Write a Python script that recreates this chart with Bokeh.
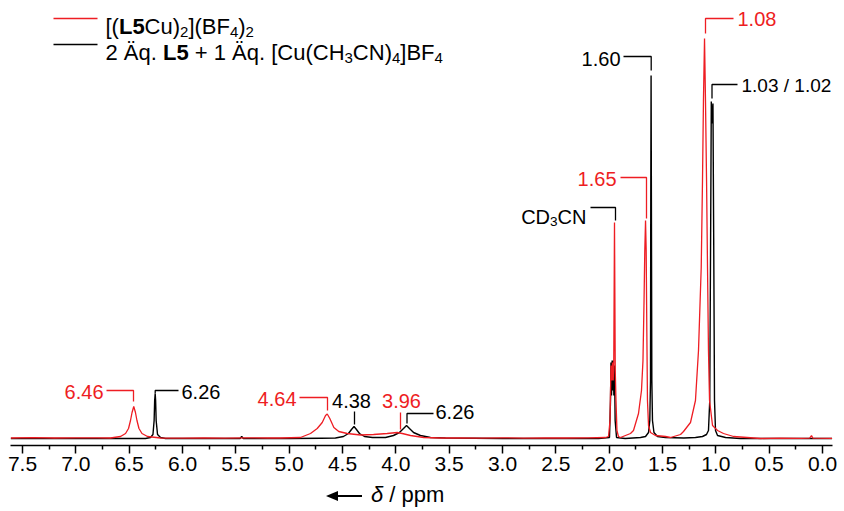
from bokeh.plotting import figure
from bokeh.models import Label, FixedTicker, NumeralTickFormatter, Range1d, Div
from bokeh.layouts import column
from bokeh.embed import file_html
from bokeh.resources import INLINE

# ---------------- data ----------------
red_ppm = [7.61, 7.40, 7.20, 7.00, 6.80, 6.675, 6.581, 6.534, 6.506, 6.4875, 6.473, 6.457, 6.441, 6.427,
           6.408, 6.380, 6.328, 6.206, 6.00, 5.80, 5.60, 5.40, 5.20, 5.081, 4.894, 4.80, 4.737, 4.690,
           4.659, 4.643, 4.619, 4.581, 4.535, 4.456, 4.331, 4.209, 4.081, 3.987, 3.940, 3.8625, 3.738,
           3.581, 3.40, 3.20, 3.00, 2.80, 2.60, 2.40, 2.20, 2.034, 2.006, 1.992, 1.983, 1.975, 1.969,
           1.962, 1.957, 1.950, 1.943, 1.936, 1.927, 1.913, 1.894, 1.800, 1.772, 1.725, 1.697, 1.683,
           1.673, 1.666, 1.659, 1.653, 1.647, 1.641, 1.631, 1.6125, 1.566, 1.472, 1.425, 1.331, 1.303,
           1.2375, 1.191, 1.1625, 1.137, 1.125, 1.116, 1.106, 1.097, 1.087, 1.078, 1.069, 1.059, 1.031,
           0.984, 0.928, 0.834, 0.581, 0.40, 0.20, 0.12, 0.103, 0.09, -0.09]
red_int = [0.5, 0.8, 0.5, 0.7, 0.6, 0.5, 2, 5, 10, 18, 26, 32, 26, 18,
           10, 5, 2, 0.5, 0.3, 0.5, 0.4, 0.6, 0.5, 0.5, 1, 5, 10, 16,
           23, 24.5, 20, 11, 7, 5, 3.5, 4, 5, 6, 5, 3, 1,
           0.5, 0.6, 0.4, 0.6, 0.4, 0.6, 0.5, 0.6, 1, 2, 18, 73, 58, 76,
           58, 76, 216, 68, 38, 8, 2, 1, 5, 8, 25, 48, 78,
           138, 188, 218, 188, 108, 38, 13, 6, 3, 2, 1, 4, 7,
           16, 38, 88, 171, 258, 338, 400, 338, 258, 171, 88, 38, 13,
           8, 5, 2, 0, 0.3, 0.2, 0.3, 3, 0.3, 0.2]

black_ppm = [7.61, 6.80, 6.40, 6.347, 6.30, 6.277, 6.266, 6.261, 6.256, 6.252, 6.247, 6.234, 6.206,
             6.159, 5.80, 5.46, 5.445, 5.43, 5.00, 4.70, 4.566, 4.491, 4.444, 4.416, 4.392, 4.369,
             4.341, 4.294, 4.219, 4.15, 4.097, 4.022, 3.966, 3.928, 3.90, 3.872, 3.834, 3.769, 3.675,
             3.534, 3.00, 2.50, 2.10, 1.997, 1.9875, 1.983, 1.978, 1.972, 1.967, 1.961, 1.956, 1.950,
             1.944, 1.931, 1.85, 1.706, 1.659, 1.631, 1.619, 1.6125, 1.610, 1.607, 1.604, 1.600, 1.594,
             1.580, 1.547, 1.472, 1.30, 1.191, 1.125, 1.0875, 1.069, 1.057, 1.048, 1.0425, 1.036, 1.031,
             1.027, 1.020, 1.0125, 1.003, 0.984, 0.909, 0.769, 0.40, -0.09]
black_int = [0, 0, 0, 0, 1, 4, 18, 38, 45, 38, 18, 4, 1,
             0, 0, 0, 2, 0, 0, 0.3, 0.5, 2, 5, 9, 12, 9,
             5, 2, 1, 1, 1, 3, 6, 10, 13, 10, 6, 3, 1,
             0.5, 0, 0, 0, 1, 38, 76, 43, 78, 48, 78, 43, 73,
             18, 1, 0, 1, 2, 6, 18, 58, 238, 363, 238, 58, 18,
             6, 2, 1, 0.5, 1, 2, 4, 8, 38, 220, 337, 315, 325,
             335, 200, 38, 8, 3, 1, 0, 0, 0]

major_ticks = [7.5, 7.0, 6.5, 6.0, 5.5, 5.0, 4.5, 4.0, 3.5, 3.0, 2.5, 2.0, 1.5, 1.0, 0.5, 0.0]
minor_ticks = [7.25, 6.75, 6.25, 5.75, 5.25, 4.75, 4.25, 3.75, 3.25, 2.75, 2.25, 1.75, 1.25, 0.75, 0.25]

RED = "#EE1D23"
BLACK = "#000000"
FONT = "Liberation Sans"

# ---------------- figure ----------------
X0, X1 = 7.6125, -0.09375
p = figure(width=844, height=480, output_backend="svg", toolbar_location=None,
           x_range=Range1d(X0, X1), y_range=Range1d(-7, 430),
           min_border_left=10, min_border_right=12, min_border_top=8, min_border_bottom=35)
p.yaxis.visible = False
p.grid.visible = False
p.outline_line_color = None
p.background_fill_color = "white"
p.border_fill_color = "white"

ax = p.xaxis[0]
ax.ticker = FixedTicker(ticks=major_ticks, minor_ticks=minor_ticks)
ax.formatter = NumeralTickFormatter(format="0.0")
ax.axis_line_width = 1.5
ax.axis_line_color = BLACK
ax.major_tick_in = 0
ax.major_tick_out = 8
ax.minor_tick_in = 0
ax.minor_tick_out = 4
ax.major_tick_line_width = 1.5
ax.minor_tick_line_width = 1.5
ax.major_tick_line_color = BLACK
ax.minor_tick_line_color = BLACK
ax.major_label_text_font = FONT
ax.major_label_text_font_size = "21px"
ax.major_label_text_color = BLACK
ax.major_label_standoff = 3

PPX = 800 / 7.5  # px per ppm


def X(px):
    return X0 - (px - 10) / PPX


def Y(py):
    return 438 - py


# spectra
p.line(black_ppm, black_int, line_color=BLACK, line_width=1.4)
p.line(red_ppm, red_int, line_color=RED, line_width=1.3)

# ---------------- rich text helper ----------------
W = {' ': .278, '[': .278, ']': .278, '(': .333, ')': .333, '.': .278, '/': .278, '+': .584,
     'A': .667, 'Ä': .667, 'B': .667, 'C': .722, 'D': .722, 'F': .611, 'H': .722, 'N': .722,
     'L': .556, 'q': .556, 'u': .556, 'p': .556, 'm': .833}
WB = {'L': .611}


def tw(s, bold=False):
    t = 0
    for c in s:
        if c.isdigit():
            t += .556
        elif bold and c in WB:
            t += WB[c]
        else:
            t += W.get(c, .556)
    return t


def rich(px_left, py_base, segs, size, color, align="left"):
    total = 0
    for s, st in segs:
        if st == "sub":
            total += tw(s) * size * 0.68
        else:
            total += tw(s, st == "bold") * size
    x = px_left
    if align == "right":
        x = px_left - total
    for s, st in segs:
        if st == "sub":
            fs = size * 0.68
            yb = py_base + size * 0.25
            style = "normal"
        else:
            fs = size
            yb = py_base
            style = "bold" if st == "bold" else ("italic" if st == "italic" else "normal")
        bold = st == "bold"
        lead = len(s) - len(s.lstrip(" "))
        x += lead * W[' '] * fs
        body = s.strip(" ")
        p.add_layout(Label(x=X(x), y=Y(yb), text=body, text_font=FONT, text_font_size=f"{fs:.1f}px",
                           text_color=color, text_font_style=style, text_align="left",
                           text_baseline="alphabetic"))
        x += tw(s.lstrip(" "), bold) * fs


def label(px, py, text, color, align, size=20):
    p.add_layout(Label(x=X(px), y=Y(py), text=text, text_font=FONT, text_font_size=f"{size}px",
                       text_color=color, text_align=align, text_baseline="middle"))


def leader(pts, color):
    p.line([X(a) for a, b in pts], [Y(b) for a, b in pts], line_color=color, line_width=1.3)


# ---------------- legend ----------------
leader([(53, 18), (97, 18)], RED)
leader([(53, 44), (97, 44)], BLACK)
rich(105, 26, [("[(", "n"), ("L5", "bold"), ("Cu)", "n"), ("2", "sub"), ("](BF", "n"), ("4", "sub"),
               (")", "n"), ("2", "sub")], 22, BLACK)
rich(105, 52, [("2 Äq. ", "n"), ("L5", "bold"), (" + 1 Äq. [Cu(CH", "n"), ("3", "sub"), ("CN)", "n"),
               ("4", "sub"), ("]BF", "n"), ("4", "sub")], 22, BLACK)

# ---------------- peak annotations ----------------
label(103, 391, "6.46", RED, "right")
leader([(106, 390), (133, 390), (133, 401)], RED)
label(181, 391, "6.26", BLACK, "left")
leader([(178, 390), (154.7, 390), (154.7, 393)], BLACK)
label(296, 398, "4.64", RED, "right")
leader([(299, 397), (327, 397), (327, 410)], RED)
label(351, 400, "4.38", BLACK, "center")
leader([(354, 411), (354, 424)], BLACK)
label(401, 400, "3.96", RED, "center")
leader([(400, 412), (400, 429)], RED)
label(435, 411, "6.26", BLACK, "left")
leader([(433, 413), (406.5, 413), (406.5, 423)], BLACK)
rich(586, 216, [("CD", "n"), ("3", "sub"), ("CN", "n")], 20, BLACK, align="right")
leader([(590, 207), (615, 207), (615, 220)], BLACK)
label(616, 178, "1.65", RED, "right")
leader([(620, 177), (646, 177), (646, 218)], RED)
label(620, 58, "1.60", BLACK, "right")
leader([(623, 56), (650.7, 56), (650.7, 70)], BLACK)
label(741, 85, "1.03 / 1.02", BLACK, "left", size=19)
leader([(737, 84), (711.5, 84), (711.5, 98)], BLACK)
label(737, 18, "1.08", RED, "left")
leader([(733, 18), (705, 18), (705, 33)], RED)

# ---------------- axis title (below the plot) ----------------
title_html = (
    '<div style="position:relative;width:844px;height:31px;font-family:\'Liberation Sans\',Arial,sans-serif;'
    'font-size:22px;color:#000;">'
    '<div style="position:absolute;left:336px;top:15px;width:26px;height:2px;background:#000;"></div>'
    '<div style="position:absolute;left:326px;top:11px;width:0;height:0;border-top:5px solid transparent;'
    'border-bottom:5px solid transparent;border-right:12px solid #000;"></div>'
    '<div style="position:absolute;left:371px;top:4px;line-height:22px;white-space:nowrap;">'
    '<i>δ</i> / ppm</div></div>'
)
div = Div(text=title_html, width=844, height=31, margin=(0, 0, 0, 0))

layout = column(p, div, spacing=0)
open("out.html", "w").write(file_html(layout, INLINE))
